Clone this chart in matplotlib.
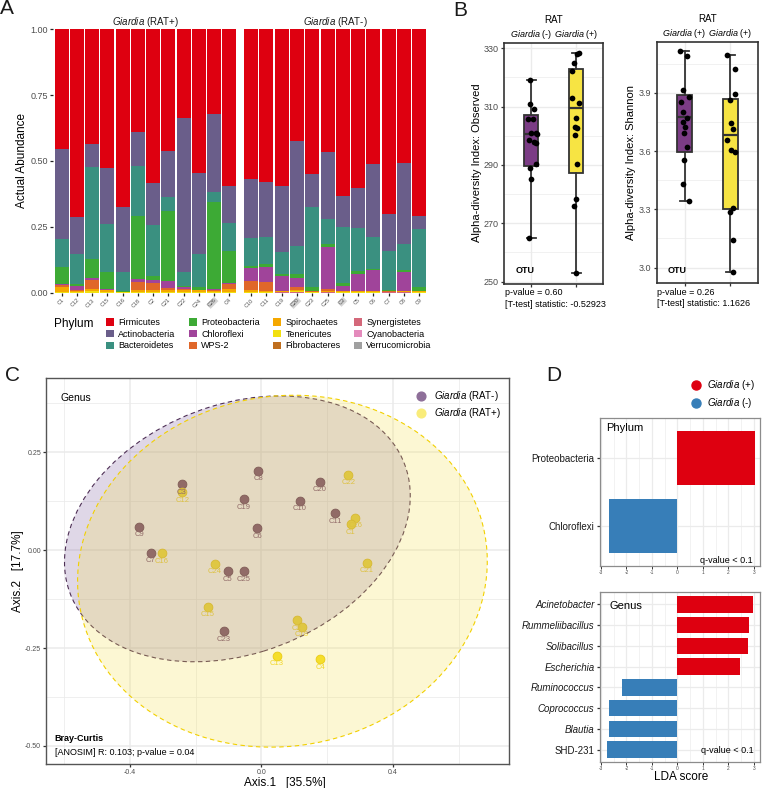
import matplotlib
matplotlib.use('Agg')
import matplotlib.pyplot as plt
from matplotlib.patches import Ellipse, Patch
from matplotlib.lines import Line2D
from matplotlib.ticker import FixedLocator
import numpy as np

plt.rcParams['font.family'] = 'Liberation Sans'
plt.rcParams['mathtext.fontset'] = 'custom'
plt.rcParams['mathtext.rm'] = 'Liberation Sans'
plt.rcParams['mathtext.it'] = 'Liberation Sans:italic'
plt.rcParams['mathtext.bf'] = 'Liberation Sans:bold'

# ── Panel A: relative abundance per phylum (RAT+ samples then RAT- samples) ──
SAMPLES_POS = ['C1', 'C12', 'C13', 'C15', 'C16', 'C18', 'C2', 'C21', 'C22', 'C24', 'C26', 'C4']
SAMPLES_NEG = ['C10', 'C11', 'C19', 'C20', 'C23', 'C25', 'C3', 'C5', 'C6', 'C7', 'C8', 'C9']
HIGHLIGHT = ['C26', 'C20', 'C3']
PHYLA = ['Firmicutes', 'Actinobacteria', 'Bacteroidetes', 'Proteobacteria', 'Chloroflexi',
         'WPS-2', 'Spirochaetes', 'Tenericutes', 'Fibrobacteres', 'Synergistetes',
         'Cyanobacteria', 'Verrucomicrobia']
PHYLUM_COLORS = ['#DE0010', '#6A5E8A', '#3A9080', '#3DAA35', '#A0449A', '#E0672A',
                 '#F5A800', '#F2E010', '#BF6E1E', '#D4687A', '#E48BBC', '#A0A0A0']

FIRMICUTES = [0.454, 0.713, 0.435, 0.528, 0.676, 0.390, 0.582, 0.462, 0.335, 0.547, 0.323, 0.595,
              0.568, 0.580, 0.594, 0.424, 0.549, 0.466, 0.633, 0.604, 0.513, 0.700, 0.506, 0.709]
ACTINOBACTERIA = [0.342, 0.140, 0.087, 0.211, 0.244, 0.128, 0.160, 0.176, 0.585, 0.306, 0.296, 0.139,
                  0.224, 0.210, 0.253, 0.398, 0.126, 0.254, 0.118, 0.152, 0.274, 0.141, 0.310, 0.049]
BACTEROIDETES = [0.105, 0.114, 0.350, 0.183, 0.072, 0.191, 0.195, 0.052, 0.055, 0.127, 0.035, 0.108,
                 0.105, 0.102, 0.082, 0.107, 0.303, 0.096, 0.214, 0.160, 0.122, 0.149, 0.098, 0.222]
PROTEOBACTERIA = [0.066, 0.008, 0.072, 0.065, 0.004, 0.240, 0.015, 0.267, 0.005, 0.008, 0.333, 0.120,
                  0.010, 0.011, 0.006, 0.014, 0.015, 0.009, 0.010, 0.013, 0.005, 0.004, 0.006, 0.012]
CHLOROFLEXI = [0.005, 0.016, 0.007, 0.001, 0.001, 0.009, 0.010, 0.025, 0.005, 0.001, 0.004, 0.005,
               0.048, 0.058, 0.058, 0.037, 0.001, 0.162, 0.018, 0.063, 0.078, 0.001, 0.072, 0.001]
WPS2 = [0.008, 0.003, 0.035, 0.003, 0.001, 0.032, 0.028, 0.008, 0.005, 0.001, 0.004, 0.020,
        0.034, 0.034, 0.002, 0.008, 0.002, 0.006, 0.002, 0.002, 0.003, 0.002, 0.003, 0.001]
SPIROCHAETES = [0.016, 0.004, 0.009, 0.007, 0.001, 0.006, 0.006, 0.006, 0.006, 0.006, 0.003, 0.009,
                0.008, 0.004, 0.002, 0.006, 0.002, 0.004, 0.003, 0.004, 0.003, 0.001, 0.002, 0.002]
TENERICUTES = [0.004, 0.002, 0.005, 0.002, 0.001, 0.004, 0.004, 0.004, 0.004, 0.004, 0.002, 0.004,
               0.003, 0.001, 0.002, 0.002, 0.002, 0.002, 0.002, 0.002, 0.002, 0.001, 0.002, 0.004]
FIBROBACTERES = [0.000, 0.000, 0.000, 0.000, 0.000, 0.000, 0.000, 0.000, 0.000, 0.000, 0.000, 0.000,
                 0.000, 0.000, 0.000, 0.001, 0.000, 0.000, 0.000, 0.000, 0.000, 0.000, 0.000, 0.000]
SYNERGISTETES = [0.000, 0.000, 0.000, 0.000, 0.000, 0.000, 0.000, 0.000, 0.000, 0.000, 0.000, 0.000,
                 0.000, 0.000, 0.001, 0.003, 0.000, 0.001, 0.000, 0.000, 0.000, 0.001, 0.001, 0.000]
CYANOBACTERIA = [0.0] * 24
VERRUCOMICROBIA = [0.0] * 24

# ── Panel B: alpha diversity (box stats + individual samples) ──
OBS_WHISLO = [265.1, 252.9]
OBS_Q1 = [289.8, 287.2]
OBS_MED = [300.6, 309.4]
OBS_Q3 = [307.1, 322.9]
OBS_WHISHI = [319.1, 328.3]
OBS_NEG = [319.1, 310.8, 309.1, 305.7, 305.9, 301.1, 300.9, 300.6, 298.5, 298.0, 297.4, 290.4, 288.9, 285.2, 265.0]
OBS_NEG_JIT = [-0.03, -0.03, 0.065, -0.072, 0.036, 0.10, 0.0, 0.14, -0.043, 0.072, 0.12, 0.11, -0.014, 0.0, -0.036]
OBS_POS = [328.5, 328.1, 325.1, 322.3, 312.8, 311.2, 306.0, 303.0, 302.6, 300.3, 290.3, 278.3, 276.1, 252.9]
OBS_POS_JIT = [0.058, 0.014, -0.043, -0.087, -0.10, 0.058, 0.007, -0.029, 0.029, -0.029, 0.022, -0.007, -0.036, 0.0]

SHA_WHISLO = [3.343, 2.979]
SHA_Q1 = [3.597, 3.300]
SHA_MED = [3.773, 3.682]
SHA_Q3 = [3.888, 3.866]
SHA_WHISHI = [4.116, 4.094]
SHA_NEG = [4.116, 4.090, 3.914, 3.878, 3.850, 3.800, 3.768, 3.751, 3.725, 3.694, 3.619, 3.555, 3.429, 3.343]
SHA_NEG_JIT = [-0.10, 0.06, -0.03, 0.10, -0.07, -0.03, 0.06, -0.03, 0.01, -0.01, 0.06, -0.015, -0.04, 0.10]
SHA_POS = [4.094, 4.020, 3.893, 3.862, 3.742, 3.711, 3.657, 3.605, 3.597, 3.305, 3.285, 3.142, 2.979]
SHA_POS_JIT = [-0.07, 0.10, 0.09, 0.0, 0.015, 0.06, -0.07, 0.015, 0.10, 0.045, -0.01, 0.065, 0.06]

# ── Panel C: PCoA (Bray-Curtis, genus) ──
NEG_IDS = ['C3', 'C19', 'C9', 'C7', 'C5', 'C25', 'C8', 'C20', 'C10', 'C11', 'C6', 'C23']
NEG_AX1 = [-0.242, -0.054, -0.372, -0.337, -0.102, -0.054, -0.009, 0.178, 0.116, 0.224, -0.013, -0.115]
NEG_AX2 = [0.168, 0.130, 0.059, -0.007, -0.054, -0.054, 0.202, 0.174, 0.126, 0.094, 0.056, -0.207]
POS_IDS = ['C12', 'C16', 'C24', 'C15', 'C22', 'C26', 'C1', 'C21', 'C2', 'C18', 'C13', 'C4']
POS_AX1 = [-0.240, -0.303, -0.141, -0.162, 0.264, 0.286, 0.271, 0.320, 0.108, 0.123, 0.047, 0.179]
POS_AX2 = [0.148, -0.008, -0.035, -0.145, 0.192, 0.083, 0.066, -0.032, -0.179, -0.196, -0.270, -0.278]
# 95% ellipses: RAT-, RAT+
ELL_X = [-0.073, 0.064]
ELL_Y = [0.054, -0.054]
ELL_W = [1.073, 1.248]
ELL_H = [0.644, 0.895]
ELL_ANGLE = [14.4, 4.8]

# ── Panel D: LEfSe LDA scores ──
PHYLUM_TAXA = ['Proteobacteria', 'Chloroflexi']
PHYLUM_LDA = [3.04, -2.69]
GENUS_TAXA = ['Acinetobacter', 'Rummeliibacillus', 'Solibacillus', 'Escherichia',
              'Ruminococcus', 'Coprococcus', 'Blautia', 'SHD-231']
GENUS_LDA = [2.98, 2.82, 2.76, 2.44, -2.17, -2.67, -2.67, -2.78]

RED, BLUE = '#DE0010', '#377EB8'
PURPLE_BOX, YELLOW_BOX = '#7B3C85', '#F7E443'
GRID = '#EBEBEB'
TXT = '#4D4D4D'

W, H = 762, 788
fig = plt.figure(figsize=(W / 100, H / 100), dpi=100)


def px_axes(x0, y0, x1, y1):
    return fig.add_axes([x0 / W, 1 - y1 / H, (x1 - x0) / W, (y1 - y0) / H])


def fig_text(x, y, s, **kw):
    return fig.text(x / W, 1 - y / H, s, **kw)


# ── A ───────────────────────────────────────────────────────────────────────
ABUNDANCE = [FIRMICUTES, ACTINOBACTERIA, BACTEROIDETES, PROTEOBACTERIA, CHLOROFLEXI, WPS2,
             SPIROCHAETES, TENERICUTES, FIBROBACTERES, SYNERGISTETES, CYANOBACTERIA, VERRUCOMICROBIA]
axA1 = px_axes(52.5, 29.3, 238.5, 292.7)
axA2 = px_axes(242.0, 29.3, 428.5, 292.7)
for ax, sl, samples, grp in [(axA1, slice(0, 12), SAMPLES_POS, 'RAT+'),
                             (axA2, slice(12, 24), SAMPLES_NEG, 'RAT-')]:
    x = np.arange(1, len(samples) + 1)
    bottom = np.zeros(len(samples))
    for vals, col in reversed(list(zip(ABUNDANCE, PHYLUM_COLORS))):
        v = np.array(vals[sl])
        ax.bar(x, v, bottom=bottom, width=0.92, color=col, linewidth=0)
        bottom += v
    ax.set_xlim(0.4, 12.6)
    ax.set_ylim(0, 1)
    for s in ax.spines.values():
        s.set_visible(False)
    ax.set_xticks(x, samples, rotation=45, ha='right', rotation_mode='anchor')
    ax.tick_params(axis='x', length=2, width=0.9, color='#222222', labelsize=4,
                   labelcolor=TXT, pad=1.5)
    for lbl in ax.get_xticklabels():
        if lbl.get_text() in HIGHLIGHT:
            lbl.set_bbox(dict(facecolor='#D4D4D4', edgecolor='none', pad=0.4))
    ax.text(0.5, 1.029, r'$\it{Giardia}$ (' + grp + ')', transform=ax.transAxes,
            ha='center', va='center', fontsize=7, color='#1A1A1A')
axA1.set_yticks([0, 0.25, 0.5, 0.75, 1.0], ['0.00', '0.25', '0.50', '0.75', '1.00'])
axA1.tick_params(axis='y', length=2, width=0.9, color='#222222', labelsize=6.5,
                 labelcolor=TXT, pad=1.5)
axA2.set_yticks([])
fig_text(22, 161, 'Actual Abundance', rotation=90, ha='center', va='center', fontsize=8.5)

fig_text(54, 324, 'Phylum', ha='left', va='center', fontsize=8.5)
handles = [Patch(facecolor=c, edgecolor='none', label=p) for p, c in zip(PHYLA, PHYLUM_COLORS)]
fig.legend(handles=handles, ncol=4, loc='upper left', bbox_to_anchor=(106 / W, 1 - 318 / H),
           frameon=False, fontsize=6.5, handlelength=0.9, handleheight=0.9,
           handletextpad=0.45, columnspacing=1.5, labelspacing=0.3,
           borderpad=0, borderaxespad=0)

# ── B ───────────────────────────────────────────────────────────────────────
def box_panel(ax, whislo, q1, med, q3, whishi, neg, neg_jit, pos, pos_jit,
              ylim, yticks, ylabels, minor, top_labels):
    stats = [dict(whislo=whislo[i], q1=q1[i], med=med[i], q3=q3[i], whishi=whishi[i], fliers=[])
             for i in range(2)]
    bp = ax.bxp(stats, positions=[1, 2], widths=0.33, patch_artist=True, showfliers=False,
                boxprops=dict(edgecolor='#333333', linewidth=1.3),
                medianprops=dict(color='#333333', linewidth=1.6),
                whiskerprops=dict(color='#333333', linewidth=1.3),
                capprops=dict(color='#333333', linewidth=1.3), capwidths=0.2)
    for patch, col in zip(bp['boxes'], [PURPLE_BOX, YELLOW_BOX]):
        patch.set_facecolor(col)
    ax.scatter(1 + np.array(neg_jit), neg, s=17, color='black', zorder=4, linewidths=0)
    ax.scatter(2 + np.array(pos_jit), pos, s=17, color='black', zorder=4, linewidths=0)
    ax.set_xlim(0.4, 2.6)
    ax.set_ylim(*ylim)
    ax.set_yticks(yticks, ylabels)
    ax.yaxis.set_minor_locator(FixedLocator(minor))
    ax.set_xticks([1, 2], ['', ''])
    ax.set_axisbelow(True)
    ax.grid(which='major', color=GRID, linewidth=1.0)
    ax.grid(which='minor', axis='y', color=GRID, linewidth=0.5)
    ax.tick_params(which='minor', length=0)
    ax.tick_params(which='major', length=2.5, width=0.9, color='#333333', labelsize=6.5,
                   labelcolor=TXT, pad=1.5)
    for s in ax.spines.values():
        s.set_color('#333333')
        s.set_linewidth(1.2)
    tr = ax.get_xaxis_transform()
    ax.text(1.5, 1.095, 'RAT', transform=tr, ha='center', va='center', fontsize=7)
    for xi, lab in zip([1, 2], top_labels):
        ax.text(xi, 1.037, r'$\it{Giardia}$ ' + lab, transform=tr, ha='center', va='center',
                fontsize=6.5)


axB1 = px_axes(504, 43, 603, 284)
box_panel(axB1, OBS_WHISLO, OBS_Q1, OBS_MED, OBS_Q3, OBS_WHISHI, OBS_NEG, OBS_NEG_JIT,
          OBS_POS, OBS_POS_JIT, (249.2, 331.8), [250, 270, 290, 310, 330],
          ['250', '270', '290', '310', '330'], [260, 280, 300, 320], ['(-)', '(+)'])
axB1.text(0.12, 0.055, 'OTU', transform=axB1.transAxes, fontsize=6.5, fontweight='bold',
          ha='left', va='center')
axB1.text(0.01, -0.037, 'p-value = 0.60', transform=axB1.transAxes, fontsize=6.5,
          ha='left', va='center')
axB1.text(0.01, -0.083, '[T-test] statistic: -0.52923', transform=axB1.transAxes,
          fontsize=6.5, ha='left', va='center')
fig_text(477, 163, 'Alpha-diversity Index: Observed', rotation=90, ha='center', va='center',
         fontsize=8)

axB2 = px_axes(657, 42, 758, 283)
box_panel(axB2, SHA_WHISLO, SHA_Q1, SHA_MED, SHA_Q3, SHA_WHISHI, SHA_NEG, SHA_NEG_JIT,
          SHA_POS, SHA_POS_JIT, (2.921, 4.161), [3.0, 3.3, 3.6, 3.9],
          ['3.0', '3.3', '3.6', '3.9'], [3.15, 3.45, 3.75, 4.05], ['(+)', '(+)'])
axB2.text(0.106, 0.053, 'OTU', transform=axB2.transAxes, fontsize=6.5, fontweight='bold',
          ha='left', va='center')
axB2.text(0.0, -0.041, 'p-value = 0.26', transform=axB2.transAxes, fontsize=6.5,
          ha='left', va='center')
axB2.text(0.0, -0.087, '[T-test] statistic: 1.1626', transform=axB2.transAxes,
          fontsize=6.5, ha='left', va='center')
fig_text(631, 163, 'Alpha-diversity Index: Shannon', rotation=90, ha='center', va='center',
         fontsize=8)

# ── C ───────────────────────────────────────────────────────────────────────
axC = px_axes(46, 378, 509, 764)
axC.set_xlim(-0.655, 0.753)
axC.set_ylim(-0.546, 0.439)
axC.set_xticks([-0.4, 0.0, 0.4], ['-0.4', '0.0', '0.4'])
axC.xaxis.set_minor_locator(FixedLocator([-0.6, -0.2, 0.2, 0.6]))
axC.set_yticks([-0.5, -0.25, 0.0, 0.25], ['-0.50', '-0.25', '0.00', '0.25'])
axC.yaxis.set_minor_locator(FixedLocator([-0.375, -0.125, 0.125, 0.375]))
axC.set_axisbelow(True)
axC.grid(which='major', color=GRID, linewidth=1.1)
axC.grid(which='minor', color=GRID, linewidth=0.55)
axC.tick_params(which='minor', length=0)
axC.tick_params(which='major', length=2.5, width=0.9, color='#333333', labelsize=5,
                labelcolor=TXT, pad=1)
for s in axC.spines.values():
    s.set_color('#555555')
    s.set_linewidth(1.0)

NEG_PT, POS_PT = '#6A3A60', '#F5DE1E'
axC.scatter(NEG_AX1, NEG_AX2, s=40, color=NEG_PT, edgecolors='#4A2040', linewidths=0.6, zorder=2)
axC.scatter(POS_AX1, POS_AX2, s=40, color=POS_PT, edgecolors='#E6C400', linewidths=0.6, zorder=2)
for ids, xs, ys, col in [(NEG_IDS, NEG_AX1, NEG_AX2, NEG_PT), (POS_IDS, POS_AX1, POS_AX2, '#F0D41A')]:
    for lab, xv, yv in zip(ids, xs, ys):
        axC.annotate(lab, (xv, yv), xytext=(0, -3.3), textcoords='offset points',
                     ha='center', va='top', fontsize=5.5, color=col, zorder=2)

for i, (fc, ec) in enumerate([('#8363A3', '#4E2F55'), ('#F5E050', '#F2D000')]):
    axC.add_patch(Ellipse((ELL_X[i], ELL_Y[i]), ELL_W[i], ELL_H[i], angle=ELL_ANGLE[i],
                          facecolor=fc, alpha=0.25, edgecolor='none', zorder=3))
    axC.add_patch(Ellipse((ELL_X[i], ELL_Y[i]), ELL_W[i], ELL_H[i], angle=ELL_ANGLE[i],
                          facecolor='none', edgecolor=ec, linewidth=0.8,
                          linestyle=(0, (4, 3)), zorder=3))

axC.text(0.032, 0.948, 'Genus', transform=axC.transAxes, fontsize=7.5, ha='left', va='center')
axC.text(0.019, 0.065, 'Bray-Curtis', transform=axC.transAxes, fontsize=6.5,
         fontweight='bold', ha='left', va='center')
axC.text(0.019, 0.030, '[ANOSIM] R: 0.103; p-value = 0.04', transform=axC.transAxes,
         fontsize=6.5, ha='left', va='center')
c_handles = [Line2D([], [], marker='o', linestyle='none', markersize=6.3,
                    markerfacecolor='#8E6F99', markeredgecolor='#8E6F99',
                    label=r'$\it{Giardia}$ (RAT-)'),
             Line2D([], [], marker='o', linestyle='none', markersize=6.3,
                    markerfacecolor='#F9EC7A', markeredgecolor='#F9EC7A',
                    label=r'$\it{Giardia}$ (RAT+)')]
axC.legend(handles=c_handles, loc='upper left', bbox_to_anchor=((417 - 46) / 463, 1 - (389 - 378) / 386),
           frameon=False, fontsize=7, handlelength=0.8, handletextpad=0.9,
           labelspacing=0.35, borderpad=0, borderaxespad=0)
fig_text(285, 783, 'Axis.1   [35.5%]', ha='center', va='center', fontsize=8.5)
fig_text(18, 571, 'Axis.2   [17.7%]', rotation=90, ha='center', va='center', fontsize=8.5)

# ── D ───────────────────────────────────────────────────────────────────────
def lda_panel(ax, taxa, lda, title, title_xy, italic):
    pos = np.arange(len(taxa))
    cols = [RED if v > 0 else BLUE for v in lda]
    ax.barh(pos, lda, height=0.8, color=cols, linewidth=0, zorder=2)
    ax.set_xlim(-3.04, 3.24)
    ax.set_ylim(len(taxa) - 0.4, -0.6)
    ax.set_xticks(range(-3, 4), [str(v) for v in range(-3, 4)])
    ax.xaxis.set_minor_locator(FixedLocator([-2.5, -1.5, -0.5, 0.5, 1.5, 2.5]))
    ax.set_yticks(pos, taxa)
    if italic:
        for lbl in ax.get_yticklabels():
            if lbl.get_text() != 'SHD-231':
                lbl.set_fontstyle('italic')
    ax.set_axisbelow(True)
    ax.grid(which='major', color=GRID, linewidth=0.9)
    ax.grid(which='minor', axis='x', color=GRID, linewidth=0.45)
    ax.tick_params(which='minor', length=0)
    ax.tick_params(axis='x', length=2, width=0.7, color='#333333', labelsize=3.5,
                   labelcolor=TXT, pad=1)
    ax.tick_params(axis='y', length=2, width=0.9, color='#333333', labelsize=7,
                   labelcolor='#1A1A1A', pad=2)
    for s in ax.spines.values():
        s.set_color('#8C8C8C')
        s.set_linewidth(0.9)
    ax.text(*title_xy, title, transform=ax.transAxes, fontsize=8, ha='left', va='center')


axD1 = px_axes(600, 418, 760, 566)
lda_panel(axD1, PHYLUM_TAXA, PHYLUM_LDA, 'Phylum', (0.04, 0.93), False)
axD1.text(0.956, 0.04, 'q-value < 0.1', transform=axD1.transAxes, fontsize=6.5,
          ha='right', va='center')
axD2 = px_axes(600, 592, 760, 762)
lda_panel(axD2, GENUS_TAXA, GENUS_LDA, 'Genus', (0.0625, 0.918), True)
axD2.text(0.9625, 0.066, 'q-value < 0.1', transform=axD2.transAxes, fontsize=6.5,
          ha='right', va='center')
fig_text(681, 777, 'LDA score', ha='center', va='center', fontsize=8.5)

d_handles = [Line2D([], [], marker='o', linestyle='none', markersize=6.5, color=RED,
                    label=r'$\it{Giardia}$ (+)'),
             Line2D([], [], marker='o', linestyle='none', markersize=6.5, color=BLUE,
                    label=r'$\it{Giardia}$ (-)')]
fig.legend(handles=d_handles, loc='upper left', bbox_to_anchor=(692 / W, 1 - 378 / H),
           frameon=False, fontsize=7, handlelength=0.8, handletextpad=0.75,
           labelspacing=0.45, borderpad=0, borderaxespad=0)

# panel letters
for lab, xp, yp in [('A', 7, 9), ('B', 460, 10), ('C', 12, 375), ('D', 554, 375)]:
    fig_text(xp, yp, lab, ha='center', va='center', fontsize=15, color='#1A1A1A')

fig.savefig('out.png', dpi=100)
